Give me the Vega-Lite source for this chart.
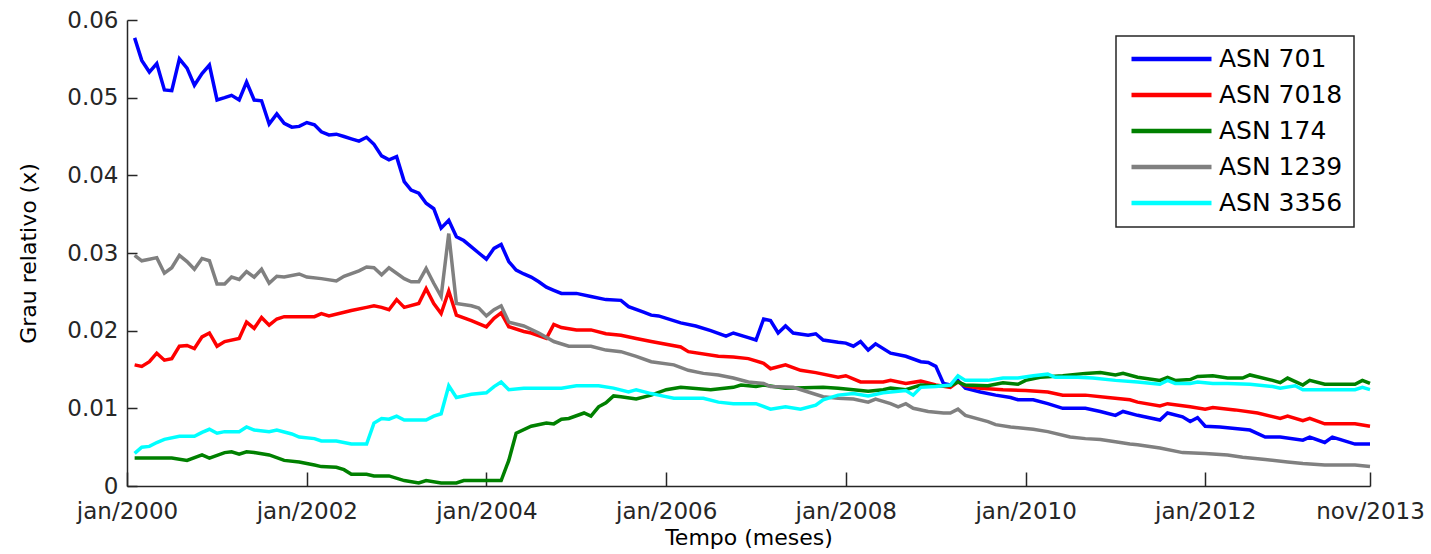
{
  "$schema": "https://vega.github.io/schema/vega-lite/v6.json",
  "width": 1243,
  "height": 466,
  "autosize": {"type": "none"},
  "padding": {"left": 127, "top": 20, "right": 61, "bottom": 68},
  "background": "white",
  "config": {
    "view": {"stroke": null},
    "axis": {
      "labelFont": "DejaVu Sans",
      "labelFontSize": 23,
      "labelColor": "#262626",
      "titleFont": "DejaVu Sans",
      "titleFontSize": 22,
      "titleFontWeight": "normal",
      "titleColor": "#000000",
      "domainColor": "#262626",
      "domainWidth": 1.5,
      "tickColor": "#262626",
      "tickWidth": 1.5,
      "grid": false
    },
    "legend": {
      "labelFont": "DejaVu Sans",
      "labelFontSize": 25,
      "labelColor": "#000000",
      "strokeWidth": 1.5
    }
  },
  "data": {
    "values": [
      {"asn":"ASN 701","mes":"2000-02","grau":0.0577},
      {"asn":"ASN 701","mes":"2000-03","grau":0.0548},
      {"asn":"ASN 701","mes":"2000-04","grau":0.0533},
      {"asn":"ASN 701","mes":"2000-05","grau":0.0544},
      {"asn":"ASN 701","mes":"2000-06","grau":0.0510},
      {"asn":"ASN 701","mes":"2000-07","grau":0.0509},
      {"asn":"ASN 701","mes":"2000-08","grau":0.0550},
      {"asn":"ASN 701","mes":"2000-09","grau":0.0538},
      {"asn":"ASN 701","mes":"2000-10","grau":0.0516},
      {"asn":"ASN 701","mes":"2000-11","grau":0.0531},
      {"asn":"ASN 701","mes":"2000-12","grau":0.0542},
      {"asn":"ASN 701","mes":"2001-01","grau":0.0497},
      {"asn":"ASN 701","mes":"2001-02","grau":0.0500},
      {"asn":"ASN 701","mes":"2001-03","grau":0.0503},
      {"asn":"ASN 701","mes":"2001-04","grau":0.0497},
      {"asn":"ASN 701","mes":"2001-05","grau":0.0520},
      {"asn":"ASN 701","mes":"2001-06","grau":0.0497},
      {"asn":"ASN 701","mes":"2001-07","grau":0.0496},
      {"asn":"ASN 701","mes":"2001-08","grau":0.0466},
      {"asn":"ASN 701","mes":"2001-09","grau":0.0479},
      {"asn":"ASN 701","mes":"2001-10","grau":0.0467},
      {"asn":"ASN 701","mes":"2001-11","grau":0.0462},
      {"asn":"ASN 701","mes":"2001-12","grau":0.0463},
      {"asn":"ASN 701","mes":"2002-01","grau":0.0468},
      {"asn":"ASN 701","mes":"2002-02","grau":0.0465},
      {"asn":"ASN 701","mes":"2002-03","grau":0.0456},
      {"asn":"ASN 701","mes":"2002-04","grau":0.0452},
      {"asn":"ASN 701","mes":"2002-05","grau":0.0453},
      {"asn":"ASN 701","mes":"2002-06","grau":0.0450},
      {"asn":"ASN 701","mes":"2002-07","grau":0.0447},
      {"asn":"ASN 701","mes":"2002-08","grau":0.0444},
      {"asn":"ASN 701","mes":"2002-09","grau":0.0449},
      {"asn":"ASN 701","mes":"2002-10","grau":0.0440},
      {"asn":"ASN 701","mes":"2002-11","grau":0.0425},
      {"asn":"ASN 701","mes":"2002-12","grau":0.0420},
      {"asn":"ASN 701","mes":"2003-01","grau":0.0424},
      {"asn":"ASN 701","mes":"2003-02","grau":0.0392},
      {"asn":"ASN 701","mes":"2003-03","grau":0.0381},
      {"asn":"ASN 701","mes":"2003-04","grau":0.0377},
      {"asn":"ASN 701","mes":"2003-05","grau":0.0364},
      {"asn":"ASN 701","mes":"2003-06","grau":0.0357},
      {"asn":"ASN 701","mes":"2003-07","grau":0.0332},
      {"asn":"ASN 701","mes":"2003-08","grau":0.0342},
      {"asn":"ASN 701","mes":"2003-09","grau":0.0321},
      {"asn":"ASN 701","mes":"2003-10","grau":0.0316},
      {"asn":"ASN 701","mes":"2003-11","grau":0.0308},
      {"asn":"ASN 701","mes":"2003-12","grau":0.0300},
      {"asn":"ASN 701","mes":"2004-01","grau":0.0292},
      {"asn":"ASN 701","mes":"2004-02","grau":0.0306},
      {"asn":"ASN 701","mes":"2004-03","grau":0.0311},
      {"asn":"ASN 701","mes":"2004-04","grau":0.0289},
      {"asn":"ASN 701","mes":"2004-05","grau":0.0278},
      {"asn":"ASN 701","mes":"2004-06","grau":0.0273},
      {"asn":"ASN 701","mes":"2004-07","grau":0.0269},
      {"asn":"ASN 701","mes":"2004-08","grau":0.0263},
      {"asn":"ASN 701","mes":"2004-09","grau":0.0256},
      {"asn":"ASN 701","mes":"2004-10","grau":0.0252},
      {"asn":"ASN 701","mes":"2004-11","grau":0.0248},
      {"asn":"ASN 701","mes":"2005-01","grau":0.0248},
      {"asn":"ASN 701","mes":"2005-03","grau":0.0244},
      {"asn":"ASN 701","mes":"2005-05","grau":0.0240},
      {"asn":"ASN 701","mes":"2005-07","grau":0.0239},
      {"asn":"ASN 701","mes":"2005-08","grau":0.0231},
      {"asn":"ASN 701","mes":"2005-10","grau":0.0224},
      {"asn":"ASN 701","mes":"2005-11","grau":0.0220},
      {"asn":"ASN 701","mes":"2005-12","grau":0.0219},
      {"asn":"ASN 701","mes":"2006-03","grau":0.0210},
      {"asn":"ASN 701","mes":"2006-05","grau":0.0206},
      {"asn":"ASN 701","mes":"2006-07","grau":0.0200},
      {"asn":"ASN 701","mes":"2006-09","grau":0.0193},
      {"asn":"ASN 701","mes":"2006-10","grau":0.0197},
      {"asn":"ASN 701","mes":"2006-12","grau":0.0191},
      {"asn":"ASN 701","mes":"2007-01","grau":0.0188},
      {"asn":"ASN 701","mes":"2007-02","grau":0.0215},
      {"asn":"ASN 701","mes":"2007-03","grau":0.0213},
      {"asn":"ASN 701","mes":"2007-04","grau":0.0197},
      {"asn":"ASN 701","mes":"2007-05","grau":0.0206},
      {"asn":"ASN 701","mes":"2007-06","grau":0.0197},
      {"asn":"ASN 701","mes":"2007-08","grau":0.0194},
      {"asn":"ASN 701","mes":"2007-09","grau":0.0196},
      {"asn":"ASN 701","mes":"2007-10","grau":0.0188},
      {"asn":"ASN 701","mes":"2007-12","grau":0.0185},
      {"asn":"ASN 701","mes":"2008-01","grau":0.0184},
      {"asn":"ASN 701","mes":"2008-02","grau":0.0180},
      {"asn":"ASN 701","mes":"2008-03","grau":0.0186},
      {"asn":"ASN 701","mes":"2008-04","grau":0.0175},
      {"asn":"ASN 701","mes":"2008-05","grau":0.0183},
      {"asn":"ASN 701","mes":"2008-07","grau":0.0171},
      {"asn":"ASN 701","mes":"2008-09","grau":0.0167},
      {"asn":"ASN 701","mes":"2008-11","grau":0.0160},
      {"asn":"ASN 701","mes":"2008-12","grau":0.0159},
      {"asn":"ASN 701","mes":"2009-01","grau":0.0154},
      {"asn":"ASN 701","mes":"2009-02","grau":0.0132},
      {"asn":"ASN 701","mes":"2009-03","grau":0.0130},
      {"asn":"ASN 701","mes":"2009-04","grau":0.0136},
      {"asn":"ASN 701","mes":"2009-05","grau":0.0126},
      {"asn":"ASN 701","mes":"2009-07","grau":0.0121},
      {"asn":"ASN 701","mes":"2009-09","grau":0.0117},
      {"asn":"ASN 701","mes":"2009-11","grau":0.0114},
      {"asn":"ASN 701","mes":"2009-12","grau":0.0111},
      {"asn":"ASN 701","mes":"2010-02","grau":0.0111},
      {"asn":"ASN 701","mes":"2010-04","grau":0.0106},
      {"asn":"ASN 701","mes":"2010-06","grau":0.0100},
      {"asn":"ASN 701","mes":"2010-09","grau":0.0100},
      {"asn":"ASN 701","mes":"2010-11","grau":0.0096},
      {"asn":"ASN 701","mes":"2011-01","grau":0.0091},
      {"asn":"ASN 701","mes":"2011-02","grau":0.0096},
      {"asn":"ASN 701","mes":"2011-04","grau":0.0091},
      {"asn":"ASN 701","mes":"2011-07","grau":0.0085},
      {"asn":"ASN 701","mes":"2011-08","grau":0.0094},
      {"asn":"ASN 701","mes":"2011-10","grau":0.0089},
      {"asn":"ASN 701","mes":"2011-11","grau":0.0083},
      {"asn":"ASN 701","mes":"2011-12","grau":0.0088},
      {"asn":"ASN 701","mes":"2012-01","grau":0.0077},
      {"asn":"ASN 701","mes":"2012-03","grau":0.0076},
      {"asn":"ASN 701","mes":"2012-05","grau":0.0074},
      {"asn":"ASN 701","mes":"2012-07","grau":0.0072},
      {"asn":"ASN 701","mes":"2012-09","grau":0.0063},
      {"asn":"ASN 701","mes":"2012-11","grau":0.0063},
      {"asn":"ASN 701","mes":"2013-02","grau":0.0059},
      {"asn":"ASN 701","mes":"2013-03","grau":0.0063},
      {"asn":"ASN 701","mes":"2013-05","grau":0.0056},
      {"asn":"ASN 701","mes":"2013-06","grau":0.0063},
      {"asn":"ASN 701","mes":"2013-07","grau":0.0060},
      {"asn":"ASN 701","mes":"2013-09","grau":0.0054},
      {"asn":"ASN 701","mes":"2013-11","grau":0.0054},

      {"asn":"ASN 7018","mes":"2000-02","grau":0.0156},
      {"asn":"ASN 7018","mes":"2000-03","grau":0.0154},
      {"asn":"ASN 7018","mes":"2000-04","grau":0.0160},
      {"asn":"ASN 7018","mes":"2000-05","grau":0.0171},
      {"asn":"ASN 7018","mes":"2000-06","grau":0.0162},
      {"asn":"ASN 7018","mes":"2000-07","grau":0.0164},
      {"asn":"ASN 7018","mes":"2000-08","grau":0.0180},
      {"asn":"ASN 7018","mes":"2000-09","grau":0.0181},
      {"asn":"ASN 7018","mes":"2000-10","grau":0.0177},
      {"asn":"ASN 7018","mes":"2000-11","grau":0.0192},
      {"asn":"ASN 7018","mes":"2000-12","grau":0.0197},
      {"asn":"ASN 7018","mes":"2001-01","grau":0.0180},
      {"asn":"ASN 7018","mes":"2001-02","grau":0.0186},
      {"asn":"ASN 7018","mes":"2001-04","grau":0.0190},
      {"asn":"ASN 7018","mes":"2001-05","grau":0.0211},
      {"asn":"ASN 7018","mes":"2001-06","grau":0.0203},
      {"asn":"ASN 7018","mes":"2001-07","grau":0.0217},
      {"asn":"ASN 7018","mes":"2001-08","grau":0.0207},
      {"asn":"ASN 7018","mes":"2001-09","grau":0.0215},
      {"asn":"ASN 7018","mes":"2001-10","grau":0.0218},
      {"asn":"ASN 7018","mes":"2001-12","grau":0.0218},
      {"asn":"ASN 7018","mes":"2002-02","grau":0.0218},
      {"asn":"ASN 7018","mes":"2002-03","grau":0.0222},
      {"asn":"ASN 7018","mes":"2002-04","grau":0.0219},
      {"asn":"ASN 7018","mes":"2002-07","grau":0.0226},
      {"asn":"ASN 7018","mes":"2002-09","grau":0.0230},
      {"asn":"ASN 7018","mes":"2002-10","grau":0.0232},
      {"asn":"ASN 7018","mes":"2002-11","grau":0.0230},
      {"asn":"ASN 7018","mes":"2002-12","grau":0.0227},
      {"asn":"ASN 7018","mes":"2003-01","grau":0.0240},
      {"asn":"ASN 7018","mes":"2003-02","grau":0.0230},
      {"asn":"ASN 7018","mes":"2003-04","grau":0.0235},
      {"asn":"ASN 7018","mes":"2003-05","grau":0.0254},
      {"asn":"ASN 7018","mes":"2003-06","grau":0.0235},
      {"asn":"ASN 7018","mes":"2003-07","grau":0.0222},
      {"asn":"ASN 7018","mes":"2003-08","grau":0.0251},
      {"asn":"ASN 7018","mes":"2003-09","grau":0.0220},
      {"asn":"ASN 7018","mes":"2003-11","grau":0.0213},
      {"asn":"ASN 7018","mes":"2004-01","grau":0.0205},
      {"asn":"ASN 7018","mes":"2004-02","grau":0.0216},
      {"asn":"ASN 7018","mes":"2004-03","grau":0.0223},
      {"asn":"ASN 7018","mes":"2004-04","grau":0.0205},
      {"asn":"ASN 7018","mes":"2004-06","grau":0.0199},
      {"asn":"ASN 7018","mes":"2004-07","grau":0.0197},
      {"asn":"ASN 7018","mes":"2004-09","grau":0.0190},
      {"asn":"ASN 7018","mes":"2004-10","grau":0.0208},
      {"asn":"ASN 7018","mes":"2004-11","grau":0.0204},
      {"asn":"ASN 7018","mes":"2005-01","grau":0.0201},
      {"asn":"ASN 7018","mes":"2005-03","grau":0.0201},
      {"asn":"ASN 7018","mes":"2005-05","grau":0.0196},
      {"asn":"ASN 7018","mes":"2005-07","grau":0.0194},
      {"asn":"ASN 7018","mes":"2005-09","grau":0.0190},
      {"asn":"ASN 7018","mes":"2005-11","grau":0.0186},
      {"asn":"ASN 7018","mes":"2006-03","grau":0.0179},
      {"asn":"ASN 7018","mes":"2006-04","grau":0.0173},
      {"asn":"ASN 7018","mes":"2006-08","grau":0.0167},
      {"asn":"ASN 7018","mes":"2006-10","grau":0.0166},
      {"asn":"ASN 7018","mes":"2006-12","grau":0.0164},
      {"asn":"ASN 7018","mes":"2007-02","grau":0.0158},
      {"asn":"ASN 7018","mes":"2007-03","grau":0.0151},
      {"asn":"ASN 7018","mes":"2007-05","grau":0.0156},
      {"asn":"ASN 7018","mes":"2007-07","grau":0.0149},
      {"asn":"ASN 7018","mes":"2007-09","grau":0.0146},
      {"asn":"ASN 7018","mes":"2007-12","grau":0.0140},
      {"asn":"ASN 7018","mes":"2008-01","grau":0.0142},
      {"asn":"ASN 7018","mes":"2008-03","grau":0.0134},
      {"asn":"ASN 7018","mes":"2008-06","grau":0.0134},
      {"asn":"ASN 7018","mes":"2008-07","grau":0.0136},
      {"asn":"ASN 7018","mes":"2008-09","grau":0.0132},
      {"asn":"ASN 7018","mes":"2008-11","grau":0.0135},
      {"asn":"ASN 7018","mes":"2009-01","grau":0.0130},
      {"asn":"ASN 7018","mes":"2009-03","grau":0.0127},
      {"asn":"ASN 7018","mes":"2009-04","grau":0.0134},
      {"asn":"ASN 7018","mes":"2009-05","grau":0.0129},
      {"asn":"ASN 7018","mes":"2009-07","grau":0.0126},
      {"asn":"ASN 7018","mes":"2009-10","grau":0.0124},
      {"asn":"ASN 7018","mes":"2010-01","grau":0.0123},
      {"asn":"ASN 7018","mes":"2010-04","grau":0.0121},
      {"asn":"ASN 7018","mes":"2010-06","grau":0.0117},
      {"asn":"ASN 7018","mes":"2010-09","grau":0.0117},
      {"asn":"ASN 7018","mes":"2010-12","grau":0.0114},
      {"asn":"ASN 7018","mes":"2011-03","grau":0.0111},
      {"asn":"ASN 7018","mes":"2011-04","grau":0.0108},
      {"asn":"ASN 7018","mes":"2011-07","grau":0.0103},
      {"asn":"ASN 7018","mes":"2011-08","grau":0.0106},
      {"asn":"ASN 7018","mes":"2011-11","grau":0.0102},
      {"asn":"ASN 7018","mes":"2012-01","grau":0.0099},
      {"asn":"ASN 7018","mes":"2012-02","grau":0.0101},
      {"asn":"ASN 7018","mes":"2012-05","grau":0.0098},
      {"asn":"ASN 7018","mes":"2012-08","grau":0.0094},
      {"asn":"ASN 7018","mes":"2012-11","grau":0.0087},
      {"asn":"ASN 7018","mes":"2012-12","grau":0.0090},
      {"asn":"ASN 7018","mes":"2013-02","grau":0.0084},
      {"asn":"ASN 7018","mes":"2013-03","grau":0.0087},
      {"asn":"ASN 7018","mes":"2013-05","grau":0.0080},
      {"asn":"ASN 7018","mes":"2013-09","grau":0.0080},
      {"asn":"ASN 7018","mes":"2013-11","grau":0.0077},

      {"asn":"ASN 174","mes":"2000-02","grau":0.0036},
      {"asn":"ASN 174","mes":"2000-07","grau":0.0036},
      {"asn":"ASN 174","mes":"2000-09","grau":0.0033},
      {"asn":"ASN 174","mes":"2000-11","grau":0.0040},
      {"asn":"ASN 174","mes":"2000-12","grau":0.0036},
      {"asn":"ASN 174","mes":"2001-02","grau":0.0043},
      {"asn":"ASN 174","mes":"2001-03","grau":0.0044},
      {"asn":"ASN 174","mes":"2001-04","grau":0.0041},
      {"asn":"ASN 174","mes":"2001-05","grau":0.0044},
      {"asn":"ASN 174","mes":"2001-06","grau":0.0043},
      {"asn":"ASN 174","mes":"2001-08","grau":0.0040},
      {"asn":"ASN 174","mes":"2001-10","grau":0.0033},
      {"asn":"ASN 174","mes":"2001-12","grau":0.0031},
      {"asn":"ASN 174","mes":"2002-02","grau":0.0027},
      {"asn":"ASN 174","mes":"2002-03","grau":0.0025},
      {"asn":"ASN 174","mes":"2002-05","grau":0.0024},
      {"asn":"ASN 174","mes":"2002-06","grau":0.0021},
      {"asn":"ASN 174","mes":"2002-07","grau":0.0015},
      {"asn":"ASN 174","mes":"2002-09","grau":0.0015},
      {"asn":"ASN 174","mes":"2002-10","grau":0.0013},
      {"asn":"ASN 174","mes":"2002-12","grau":0.0013},
      {"asn":"ASN 174","mes":"2003-02","grau":0.0007},
      {"asn":"ASN 174","mes":"2003-04","grau":0.0004},
      {"asn":"ASN 174","mes":"2003-05","grau":0.0007},
      {"asn":"ASN 174","mes":"2003-07","grau":0.0004},
      {"asn":"ASN 174","mes":"2003-09","grau":0.0004},
      {"asn":"ASN 174","mes":"2003-10","grau":0.0007},
      {"asn":"ASN 174","mes":"2004-03","grau":0.0007},
      {"asn":"ASN 174","mes":"2004-04","grau":0.0033},
      {"asn":"ASN 174","mes":"2004-05","grau":0.0068},
      {"asn":"ASN 174","mes":"2004-07","grau":0.0077},
      {"asn":"ASN 174","mes":"2004-09","grau":0.0081},
      {"asn":"ASN 174","mes":"2004-10","grau":0.0080},
      {"asn":"ASN 174","mes":"2004-11","grau":0.0086},
      {"asn":"ASN 174","mes":"2004-12","grau":0.0087},
      {"asn":"ASN 174","mes":"2005-02","grau":0.0094},
      {"asn":"ASN 174","mes":"2005-03","grau":0.0090},
      {"asn":"ASN 174","mes":"2005-04","grau":0.0102},
      {"asn":"ASN 174","mes":"2005-05","grau":0.0107},
      {"asn":"ASN 174","mes":"2005-06","grau":0.0116},
      {"asn":"ASN 174","mes":"2005-07","grau":0.0115},
      {"asn":"ASN 174","mes":"2005-09","grau":0.0112},
      {"asn":"ASN 174","mes":"2005-11","grau":0.0117},
      {"asn":"ASN 174","mes":"2006-01","grau":0.0124},
      {"asn":"ASN 174","mes":"2006-03","grau":0.0127},
      {"asn":"ASN 174","mes":"2006-07","grau":0.0124},
      {"asn":"ASN 174","mes":"2006-10","grau":0.0127},
      {"asn":"ASN 174","mes":"2006-11","grau":0.0130},
      {"asn":"ASN 174","mes":"2007-01","grau":0.0128},
      {"asn":"ASN 174","mes":"2007-02","grau":0.0130},
      {"asn":"ASN 174","mes":"2007-05","grau":0.0126},
      {"asn":"ASN 174","mes":"2007-10","grau":0.0127},
      {"asn":"ASN 174","mes":"2007-12","grau":0.0126},
      {"asn":"ASN 174","mes":"2008-02","grau":0.0124},
      {"asn":"ASN 174","mes":"2008-04","grau":0.0122},
      {"asn":"ASN 174","mes":"2008-06","grau":0.0124},
      {"asn":"ASN 174","mes":"2008-07","grau":0.0126},
      {"asn":"ASN 174","mes":"2008-09","grau":0.0124},
      {"asn":"ASN 174","mes":"2008-11","grau":0.0130},
      {"asn":"ASN 174","mes":"2009-01","grau":0.0129},
      {"asn":"ASN 174","mes":"2009-03","grau":0.0129},
      {"asn":"ASN 174","mes":"2009-04","grau":0.0134},
      {"asn":"ASN 174","mes":"2009-05","grau":0.0130},
      {"asn":"ASN 174","mes":"2009-08","grau":0.0129},
      {"asn":"ASN 174","mes":"2009-10","grau":0.0133},
      {"asn":"ASN 174","mes":"2009-12","grau":0.0131},
      {"asn":"ASN 174","mes":"2010-01","grau":0.0136},
      {"asn":"ASN 174","mes":"2010-03","grau":0.0140},
      {"asn":"ASN 174","mes":"2010-06","grau":0.0142},
      {"asn":"ASN 174","mes":"2010-09","grau":0.0145},
      {"asn":"ASN 174","mes":"2010-11","grau":0.0146},
      {"asn":"ASN 174","mes":"2011-01","grau":0.0143},
      {"asn":"ASN 174","mes":"2011-02","grau":0.0145},
      {"asn":"ASN 174","mes":"2011-04","grau":0.0140},
      {"asn":"ASN 174","mes":"2011-07","grau":0.0136},
      {"asn":"ASN 174","mes":"2011-08","grau":0.0140},
      {"asn":"ASN 174","mes":"2011-09","grau":0.0136},
      {"asn":"ASN 174","mes":"2011-11","grau":0.0137},
      {"asn":"ASN 174","mes":"2011-12","grau":0.0141},
      {"asn":"ASN 174","mes":"2012-02","grau":0.0142},
      {"asn":"ASN 174","mes":"2012-04","grau":0.0139},
      {"asn":"ASN 174","mes":"2012-06","grau":0.0139},
      {"asn":"ASN 174","mes":"2012-07","grau":0.0143},
      {"asn":"ASN 174","mes":"2012-10","grau":0.0136},
      {"asn":"ASN 174","mes":"2012-11","grau":0.0133},
      {"asn":"ASN 174","mes":"2012-12","grau":0.0139},
      {"asn":"ASN 174","mes":"2013-02","grau":0.0130},
      {"asn":"ASN 174","mes":"2013-03","grau":0.0136},
      {"asn":"ASN 174","mes":"2013-05","grau":0.0131},
      {"asn":"ASN 174","mes":"2013-09","grau":0.0131},
      {"asn":"ASN 174","mes":"2013-10","grau":0.0136},
      {"asn":"ASN 174","mes":"2013-11","grau":0.0132},

      {"asn":"ASN 1239","mes":"2000-02","grau":0.0297},
      {"asn":"ASN 1239","mes":"2000-03","grau":0.0290},
      {"asn":"ASN 1239","mes":"2000-04","grau":0.0292},
      {"asn":"ASN 1239","mes":"2000-05","grau":0.0294},
      {"asn":"ASN 1239","mes":"2000-06","grau":0.0274},
      {"asn":"ASN 1239","mes":"2000-07","grau":0.0281},
      {"asn":"ASN 1239","mes":"2000-08","grau":0.0297},
      {"asn":"ASN 1239","mes":"2000-09","grau":0.0289},
      {"asn":"ASN 1239","mes":"2000-10","grau":0.0279},
      {"asn":"ASN 1239","mes":"2000-11","grau":0.0293},
      {"asn":"ASN 1239","mes":"2000-12","grau":0.0290},
      {"asn":"ASN 1239","mes":"2001-01","grau":0.0260},
      {"asn":"ASN 1239","mes":"2001-02","grau":0.0260},
      {"asn":"ASN 1239","mes":"2001-03","grau":0.0269},
      {"asn":"ASN 1239","mes":"2001-04","grau":0.0266},
      {"asn":"ASN 1239","mes":"2001-05","grau":0.0276},
      {"asn":"ASN 1239","mes":"2001-06","grau":0.0269},
      {"asn":"ASN 1239","mes":"2001-07","grau":0.0279},
      {"asn":"ASN 1239","mes":"2001-08","grau":0.0261},
      {"asn":"ASN 1239","mes":"2001-09","grau":0.0270},
      {"asn":"ASN 1239","mes":"2001-10","grau":0.0269},
      {"asn":"ASN 1239","mes":"2001-12","grau":0.0273},
      {"asn":"ASN 1239","mes":"2002-01","grau":0.0269},
      {"asn":"ASN 1239","mes":"2002-03","grau":0.0267},
      {"asn":"ASN 1239","mes":"2002-05","grau":0.0264},
      {"asn":"ASN 1239","mes":"2002-06","grau":0.0270},
      {"asn":"ASN 1239","mes":"2002-08","grau":0.0277},
      {"asn":"ASN 1239","mes":"2002-09","grau":0.0282},
      {"asn":"ASN 1239","mes":"2002-10","grau":0.0281},
      {"asn":"ASN 1239","mes":"2002-11","grau":0.0272},
      {"asn":"ASN 1239","mes":"2002-12","grau":0.0281},
      {"asn":"ASN 1239","mes":"2003-02","grau":0.0267},
      {"asn":"ASN 1239","mes":"2003-03","grau":0.0263},
      {"asn":"ASN 1239","mes":"2003-04","grau":0.0263},
      {"asn":"ASN 1239","mes":"2003-05","grau":0.0280},
      {"asn":"ASN 1239","mes":"2003-06","grau":0.0261},
      {"asn":"ASN 1239","mes":"2003-07","grau":0.0244},
      {"asn":"ASN 1239","mes":"2003-08","grau":0.0325},
      {"asn":"ASN 1239","mes":"2003-09","grau":0.0235},
      {"asn":"ASN 1239","mes":"2003-11","grau":0.0232},
      {"asn":"ASN 1239","mes":"2003-12","grau":0.0229},
      {"asn":"ASN 1239","mes":"2004-01","grau":0.0219},
      {"asn":"ASN 1239","mes":"2004-02","grau":0.0227},
      {"asn":"ASN 1239","mes":"2004-03","grau":0.0232},
      {"asn":"ASN 1239","mes":"2004-04","grau":0.0211},
      {"asn":"ASN 1239","mes":"2004-06","grau":0.0206},
      {"asn":"ASN 1239","mes":"2004-08","grau":0.0197},
      {"asn":"ASN 1239","mes":"2004-10","grau":0.0186},
      {"asn":"ASN 1239","mes":"2004-12","grau":0.0180},
      {"asn":"ASN 1239","mes":"2005-03","grau":0.0180},
      {"asn":"ASN 1239","mes":"2005-05","grau":0.0175},
      {"asn":"ASN 1239","mes":"2005-07","grau":0.0173},
      {"asn":"ASN 1239","mes":"2005-09","grau":0.0167},
      {"asn":"ASN 1239","mes":"2005-11","grau":0.0160},
      {"asn":"ASN 1239","mes":"2006-02","grau":0.0156},
      {"asn":"ASN 1239","mes":"2006-04","grau":0.0149},
      {"asn":"ASN 1239","mes":"2006-06","grau":0.0145},
      {"asn":"ASN 1239","mes":"2006-08","grau":0.0143},
      {"asn":"ASN 1239","mes":"2006-10","grau":0.0139},
      {"asn":"ASN 1239","mes":"2006-12","grau":0.0134},
      {"asn":"ASN 1239","mes":"2007-02","grau":0.0132},
      {"asn":"ASN 1239","mes":"2007-03","grau":0.0128},
      {"asn":"ASN 1239","mes":"2007-06","grau":0.0127},
      {"asn":"ASN 1239","mes":"2007-08","grau":0.0121},
      {"asn":"ASN 1239","mes":"2007-10","grau":0.0115},
      {"asn":"ASN 1239","mes":"2007-12","grau":0.0113},
      {"asn":"ASN 1239","mes":"2008-02","grau":0.0112},
      {"asn":"ASN 1239","mes":"2008-04","grau":0.0108},
      {"asn":"ASN 1239","mes":"2008-05","grau":0.0112},
      {"asn":"ASN 1239","mes":"2008-07","grau":0.0106},
      {"asn":"ASN 1239","mes":"2008-08","grau":0.0102},
      {"asn":"ASN 1239","mes":"2008-09","grau":0.0106},
      {"asn":"ASN 1239","mes":"2008-10","grau":0.0100},
      {"asn":"ASN 1239","mes":"2008-12","grau":0.0096},
      {"asn":"ASN 1239","mes":"2009-02","grau":0.0094},
      {"asn":"ASN 1239","mes":"2009-03","grau":0.0094},
      {"asn":"ASN 1239","mes":"2009-04","grau":0.0099},
      {"asn":"ASN 1239","mes":"2009-05","grau":0.0091},
      {"asn":"ASN 1239","mes":"2009-08","grau":0.0083},
      {"asn":"ASN 1239","mes":"2009-09","grau":0.0079},
      {"asn":"ASN 1239","mes":"2009-11","grau":0.0076},
      {"asn":"ASN 1239","mes":"2010-01","grau":0.0074},
      {"asn":"ASN 1239","mes":"2010-02","grau":0.0073},
      {"asn":"ASN 1239","mes":"2010-04","grau":0.0070},
      {"asn":"ASN 1239","mes":"2010-07","grau":0.0063},
      {"asn":"ASN 1239","mes":"2010-09","grau":0.0061},
      {"asn":"ASN 1239","mes":"2010-11","grau":0.0060},
      {"asn":"ASN 1239","mes":"2011-01","grau":0.0057},
      {"asn":"ASN 1239","mes":"2011-03","grau":0.0054},
      {"asn":"ASN 1239","mes":"2011-04","grau":0.0053},
      {"asn":"ASN 1239","mes":"2011-07","grau":0.0049},
      {"asn":"ASN 1239","mes":"2011-10","grau":0.0043},
      {"asn":"ASN 1239","mes":"2012-01","grau":0.0042},
      {"asn":"ASN 1239","mes":"2012-04","grau":0.0040},
      {"asn":"ASN 1239","mes":"2012-06","grau":0.0037},
      {"asn":"ASN 1239","mes":"2012-09","grau":0.0034},
      {"asn":"ASN 1239","mes":"2012-12","grau":0.0031},
      {"asn":"ASN 1239","mes":"2013-02","grau":0.0029},
      {"asn":"ASN 1239","mes":"2013-05","grau":0.0027},
      {"asn":"ASN 1239","mes":"2013-09","grau":0.0027},
      {"asn":"ASN 1239","mes":"2013-11","grau":0.0025},

      {"asn":"ASN 3356","mes":"2000-02","grau":0.0042},
      {"asn":"ASN 3356","mes":"2000-03","grau":0.0050},
      {"asn":"ASN 3356","mes":"2000-04","grau":0.0051},
      {"asn":"ASN 3356","mes":"2000-05","grau":0.0056},
      {"asn":"ASN 3356","mes":"2000-06","grau":0.0060},
      {"asn":"ASN 3356","mes":"2000-08","grau":0.0064},
      {"asn":"ASN 3356","mes":"2000-10","grau":0.0064},
      {"asn":"ASN 3356","mes":"2000-11","grau":0.0069},
      {"asn":"ASN 3356","mes":"2000-12","grau":0.0073},
      {"asn":"ASN 3356","mes":"2001-01","grau":0.0068},
      {"asn":"ASN 3356","mes":"2001-02","grau":0.0070},
      {"asn":"ASN 3356","mes":"2001-04","grau":0.0070},
      {"asn":"ASN 3356","mes":"2001-05","grau":0.0076},
      {"asn":"ASN 3356","mes":"2001-06","grau":0.0072},
      {"asn":"ASN 3356","mes":"2001-08","grau":0.0070},
      {"asn":"ASN 3356","mes":"2001-09","grau":0.0072},
      {"asn":"ASN 3356","mes":"2001-11","grau":0.0067},
      {"asn":"ASN 3356","mes":"2001-12","grau":0.0063},
      {"asn":"ASN 3356","mes":"2002-02","grau":0.0061},
      {"asn":"ASN 3356","mes":"2002-03","grau":0.0058},
      {"asn":"ASN 3356","mes":"2002-05","grau":0.0058},
      {"asn":"ASN 3356","mes":"2002-07","grau":0.0054},
      {"asn":"ASN 3356","mes":"2002-09","grau":0.0054},
      {"asn":"ASN 3356","mes":"2002-10","grau":0.0081},
      {"asn":"ASN 3356","mes":"2002-11","grau":0.0087},
      {"asn":"ASN 3356","mes":"2002-12","grau":0.0086},
      {"asn":"ASN 3356","mes":"2003-01","grau":0.0090},
      {"asn":"ASN 3356","mes":"2003-02","grau":0.0085},
      {"asn":"ASN 3356","mes":"2003-05","grau":0.0085},
      {"asn":"ASN 3356","mes":"2003-06","grau":0.0090},
      {"asn":"ASN 3356","mes":"2003-07","grau":0.0093},
      {"asn":"ASN 3356","mes":"2003-08","grau":0.0129},
      {"asn":"ASN 3356","mes":"2003-09","grau":0.0114},
      {"asn":"ASN 3356","mes":"2003-11","grau":0.0118},
      {"asn":"ASN 3356","mes":"2004-01","grau":0.0120},
      {"asn":"ASN 3356","mes":"2004-02","grau":0.0128},
      {"asn":"ASN 3356","mes":"2004-03","grau":0.0134},
      {"asn":"ASN 3356","mes":"2004-04","grau":0.0124},
      {"asn":"ASN 3356","mes":"2004-06","grau":0.0126},
      {"asn":"ASN 3356","mes":"2004-11","grau":0.0126},
      {"asn":"ASN 3356","mes":"2005-01","grau":0.0129},
      {"asn":"ASN 3356","mes":"2005-04","grau":0.0129},
      {"asn":"ASN 3356","mes":"2005-06","grau":0.0126},
      {"asn":"ASN 3356","mes":"2005-08","grau":0.0121},
      {"asn":"ASN 3356","mes":"2005-09","grau":0.0124},
      {"asn":"ASN 3356","mes":"2005-11","grau":0.0119},
      {"asn":"ASN 3356","mes":"2005-12","grau":0.0117},
      {"asn":"ASN 3356","mes":"2006-02","grau":0.0113},
      {"asn":"ASN 3356","mes":"2006-06","grau":0.0113},
      {"asn":"ASN 3356","mes":"2006-08","grau":0.0108},
      {"asn":"ASN 3356","mes":"2006-10","grau":0.0106},
      {"asn":"ASN 3356","mes":"2007-01","grau":0.0106},
      {"asn":"ASN 3356","mes":"2007-03","grau":0.0099},
      {"asn":"ASN 3356","mes":"2007-05","grau":0.0102},
      {"asn":"ASN 3356","mes":"2007-07","grau":0.0099},
      {"asn":"ASN 3356","mes":"2007-09","grau":0.0104},
      {"asn":"ASN 3356","mes":"2007-10","grau":0.0111},
      {"asn":"ASN 3356","mes":"2007-12","grau":0.0117},
      {"asn":"ASN 3356","mes":"2008-02","grau":0.0119},
      {"asn":"ASN 3356","mes":"2008-04","grau":0.0116},
      {"asn":"ASN 3356","mes":"2008-06","grau":0.0120},
      {"asn":"ASN 3356","mes":"2008-09","grau":0.0123},
      {"asn":"ASN 3356","mes":"2008-10","grau":0.0117},
      {"asn":"ASN 3356","mes":"2008-11","grau":0.0127},
      {"asn":"ASN 3356","mes":"2009-01","grau":0.0128},
      {"asn":"ASN 3356","mes":"2009-03","grau":0.0130},
      {"asn":"ASN 3356","mes":"2009-04","grau":0.0142},
      {"asn":"ASN 3356","mes":"2009-05","grau":0.0136},
      {"asn":"ASN 3356","mes":"2009-08","grau":0.0136},
      {"asn":"ASN 3356","mes":"2009-10","grau":0.0139},
      {"asn":"ASN 3356","mes":"2009-12","grau":0.0139},
      {"asn":"ASN 3356","mes":"2010-02","grau":0.0142},
      {"asn":"ASN 3356","mes":"2010-04","grau":0.0144},
      {"asn":"ASN 3356","mes":"2010-05","grau":0.0140},
      {"asn":"ASN 3356","mes":"2010-08","grau":0.0140},
      {"asn":"ASN 3356","mes":"2010-10","grau":0.0139},
      {"asn":"ASN 3356","mes":"2011-01","grau":0.0136},
      {"asn":"ASN 3356","mes":"2011-04","grau":0.0134},
      {"asn":"ASN 3356","mes":"2011-07","grau":0.0131},
      {"asn":"ASN 3356","mes":"2011-08","grau":0.0136},
      {"asn":"ASN 3356","mes":"2011-09","grau":0.0132},
      {"asn":"ASN 3356","mes":"2011-11","grau":0.0132},
      {"asn":"ASN 3356","mes":"2011-12","grau":0.0134},
      {"asn":"ASN 3356","mes":"2012-02","grau":0.0132},
      {"asn":"ASN 3356","mes":"2012-04","grau":0.0132},
      {"asn":"ASN 3356","mes":"2012-07","grau":0.0131},
      {"asn":"ASN 3356","mes":"2012-10","grau":0.0128},
      {"asn":"ASN 3356","mes":"2012-11","grau":0.0126},
      {"asn":"ASN 3356","mes":"2013-01","grau":0.0129},
      {"asn":"ASN 3356","mes":"2013-02","grau":0.0124},
      {"asn":"ASN 3356","mes":"2013-05","grau":0.0124},
      {"asn":"ASN 3356","mes":"2013-09","grau":0.0124},
      {"asn":"ASN 3356","mes":"2013-10","grau":0.0127},
      {"asn":"ASN 3356","mes":"2013-11","grau":0.0124}
    ]
  },
  "mark": {"type": "line", "strokeWidth": 3.5, "interpolate": "linear"},
  "encoding": {
    "x": {
      "field": "mes",
      "type": "temporal",
      "scale": {
        "type": "utc",
        "domain": [
          {"year": 2000, "month": 1, "date": 1, "utc": true},
          {"year": 2013, "month": 11, "date": 1, "utc": true}
        ]
      },
      "axis": {
        "title": "Tempo (meses)",
        "values": [
          {"year": 2000, "month": 1, "date": 1, "utc": true},
          {"year": 2002, "month": 1, "date": 1, "utc": true},
          {"year": 2004, "month": 1, "date": 1, "utc": true},
          {"year": 2006, "month": 1, "date": 1, "utc": true},
          {"year": 2008, "month": 1, "date": 1, "utc": true},
          {"year": 2010, "month": 1, "date": 1, "utc": true},
          {"year": 2012, "month": 1, "date": 1, "utc": true},
          {"year": 2013, "month": 11, "date": 1, "utc": true}
        ],
        "labelExpr": "(utcFormat(datum.value, '%m') == '11' ? 'nov/' : 'jan/') + utcFormat(datum.value, '%Y')",
        "tickSize": -14,
        "labelPadding": 28,
        "labelFlush": false,
        "labelOverlap": false,
        "titlePadding": 4
      }
    },
    "y": {
      "field": "grau",
      "type": "quantitative",
      "scale": {"domain": [0, 0.06], "nice": false},
      "axis": {
        "title": "Grau relativo (x)",
        "values": [0, 0.01, 0.02, 0.03, 0.04, 0.05, 0.06],
        "format": "~g",
        "tickSize": -10,
        "labelPadding": 19,
        "titlePadding": 26
      }
    },
    "color": {
      "field": "asn",
      "type": "nominal",
      "scale": {
        "domain": ["ASN 701", "ASN 7018", "ASN 174", "ASN 1239", "ASN 3356"],
        "range": ["#0000FF", "#FF0000", "#008000", "#808080", "#00FFFF"]
      },
      "legend": {
        "title": null,
        "orient": "none",
        "legendX": 989,
        "legendY": 16,
        "symbolType": "stroke",
        "symbolSize": 6400,
        "symbolStrokeWidth": 4.5,
        "clipHeight": 24,
        "symbolOffset": 2,
        "labelOffset": 5,
        "padding": 11,
        "rowPadding": 11,
        "strokeColor": "#262626",
        "fillColor": "#FFFFFF"
      }
    }
  }
}
